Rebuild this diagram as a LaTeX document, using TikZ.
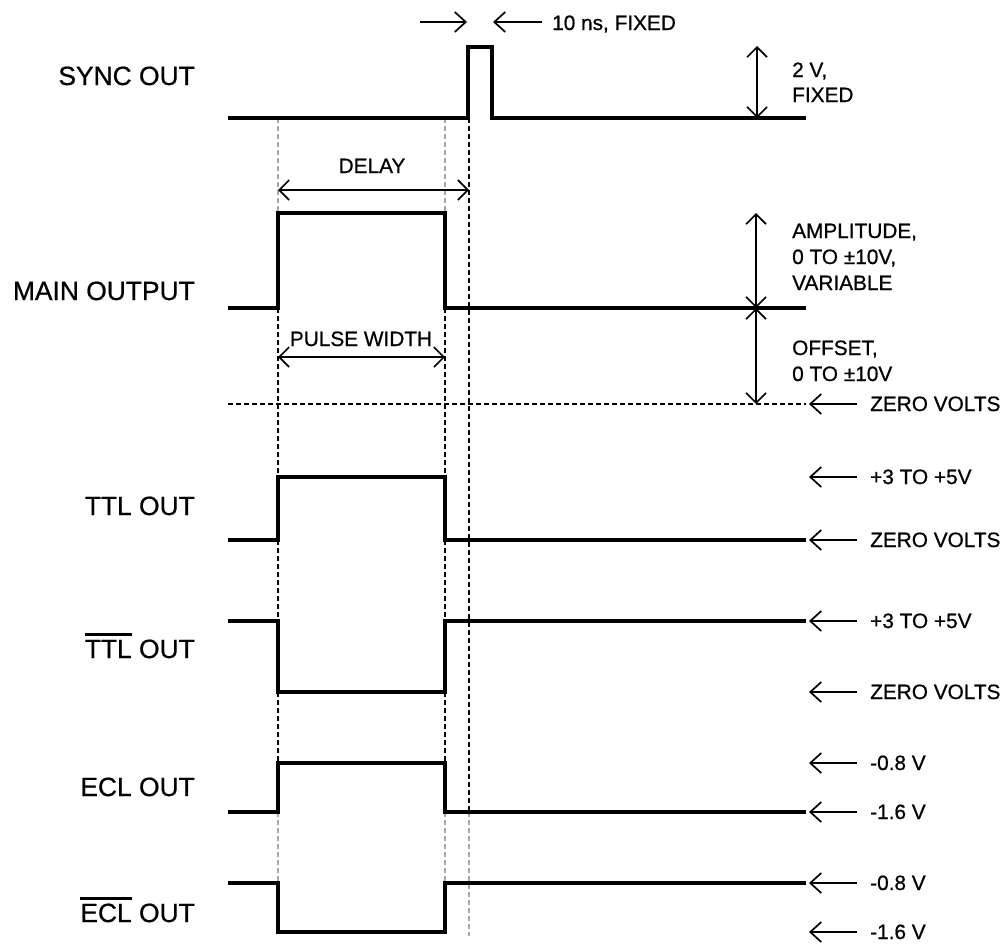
\documentclass[tikz,border=0pt]{standalone}
\usepackage{fontspec}
\setmainfont{Liberation Sans}[FakeBold=0.7]
\usetikzlibrary{arrows.meta}
\newcommand\ovlbar[1]{\setbox0\hbox{#1}\rlap{\rule[\dimexpr\ht0+4pt\relax]{\wd0}{3pt}}\box0\relax}
\tikzset{
 wave/.style={line width=4pt, line join=miter},
 dimarrow/.style={line width=1.6pt, {Straight Barb[length=10pt,width=20pt]}-{Straight Barb[length=10pt,width=20pt]}},
 leadarrow/.style={line width=1.7pt, -{Straight Barb[length=11pt,width=20pt]}},
 guide/.style={line width=1.2pt, dash pattern=on 5pt off 3pt},
 guidegrey/.style={guide, draw=black!35},
 biglbl/.style={font=\fontsize{26.4}{30}\selectfont, inner sep=0pt, anchor=base east},
 smlbl/.style={font=\fontsize{20.8}{25}\selectfont, inner sep=0pt, anchor=base west},
 smlblc/.style={smlbl, anchor=base},
}
\begin{document}
\begin{tikzpicture}[x=1pt,y=-1pt]
\useasboundingbox (0,0) rectangle (1006,943);
% guide lines
\draw[guidegrey] (278,118) -- (278,213);
\draw[guidegrey] (445,118) -- (445,213);
\draw[guide] (278,308) -- (278,812);
\draw[guide] (445,308) -- (445,812);
\draw[guide] (469,118) -- (469,812);
\draw[guidegrey] (278,812) -- (278,883);
\draw[guidegrey] (445,812) -- (445,883);
\draw[guidegrey] (469,812) -- (469,936);
\coordinate (zl) at (228,404);
\coordinate (zr) at (806,404);
\draw[guide] (zl) -- (zr);
% waveforms
\draw[wave] (228,118) -- (468,118) -- (468,47) -- (492,47) -- (492,118) -- (806,118);
\draw[wave] (228,308) -- (278,308) -- (278,213) -- (445,213) -- (445,308) -- (806,308);
\draw[wave] (228,540) -- (278,540) -- (278,477) -- (445,477) -- (445,540) -- (806,540);
\draw[wave] (228,621) -- (278,621) -- (278,692) -- (445,692) -- (445,621) -- (806,621);
\draw[wave] (228,812) -- (278,812) -- (278,763) -- (445,763) -- (445,812) -- (806,812);
\draw[wave] (228,883) -- (278,883) -- (278,932) -- (445,932) -- (445,883) -- (806,883);
% left labels
\node[biglbl] (lsync) at (195,85) {SYNC OUT};
\node[biglbl] (lmain) at (195,300) {MAIN OUTPUT};
\node[biglbl] (lttl) at (195,515) {TTL OUT};
\node[biglbl] (lttlb) at (195,658) {\ovlbar{TTL} OUT};
\node[biglbl] (lecl) at (195,796) {ECL OUT};
\node[biglbl] (leclb) at (195,922) {\ovlbar{ECL} OUT};
% 10 ns
\coordinate (pa1) at (420,22); \coordinate (pa2) at (467,22);
\coordinate (pb1) at (542,22); \coordinate (pb2) at (493,22);
\draw[leadarrow] (pa1) -- (pa2);
\draw[leadarrow] (pb1) -- (pb2);
\node[smlbl] (tns) at (552,30) {10 ns, FIXED};
% 2 V fixed
\coordinate (sv1) at (757,46); \coordinate (sv2) at (757,118);
\draw[dimarrow] (sv1) -- (sv2);
\node[smlbl] (t2v) at (792,77) {2 V,};
\node[smlbl] (t2vf) at (792,102) {FIXED};
% delay
\coordinate (d1) at (278,190); \coordinate (d2) at (469,190);
\draw[dimarrow] (d1) -- (d2);
\node[smlblc] (tdelay) at (372,173) {DELAY};
% pulse width
\coordinate (w1) at (278,357); \coordinate (w2) at (445,357);
\draw[dimarrow] (w1) -- (w2);
\node[smlblc] (tpw) at (361,346) {PULSE WIDTH};
% amplitude / offset
\coordinate (am1) at (756,213); \coordinate (am2) at (756,308); \coordinate (am3) at (756,404);
\draw[dimarrow] (am1) -- (am2);
\draw[dimarrow] (am2) -- (am3);
\node[smlbl] (tamp1) at (792,238) {AMPLITUDE,};
\node[smlbl] (tamp2) at (792,264) {0 TO ±10V,};
\node[smlbl] (tamp3) at (792,290) {VARIABLE};
\node[smlbl] (toff1) at (792,355) {OFFSET,};
\node[smlbl] (toff2) at (792,381) {0 TO ±10V};
% right level markers
\foreach \yy/\txt/\nm in {404/ZERO VOLTS/ra, 477/+3 TO +5V/rb, 540/ZERO VOLTS/rc, 621/+3 TO +5V/rd, 692/ZERO VOLTS/re, 763/-0.8 V/rf, 812/-1.6 V/rg, 883/-0.8 V/rh, 932/-1.6 V/ri}{
  \coordinate (\nm1) at (857,\yy);
  \coordinate (\nm2) at (809,\yy);
  \draw[leadarrow] (\nm1) -- (\nm2);
  \node[smlbl] (\nm t) at (870,\yy+7) {\txt};
}
\end{tikzpicture}
\end{document}
